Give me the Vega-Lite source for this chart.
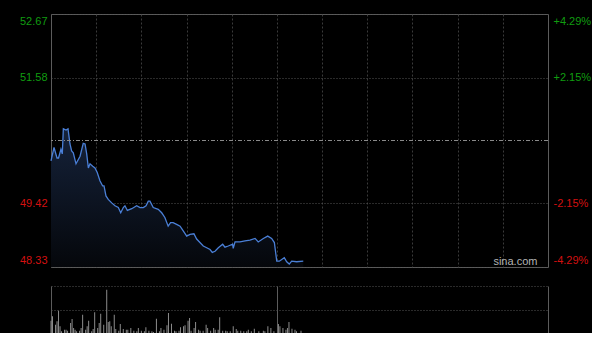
{
  "$schema": "https://vega.github.io/schema/vega-lite/v6.json",
  "background": "#000000",
  "padding": {"left": 18, "top": 13, "right": 0, "bottom": 0},
  "config": {
    "view": {"stroke": null},
    "font": "Liberation Sans",
    "axis": {"labelFont": "Liberation Sans", "labelFontSize": 11, "title": null, "ticks": false, "domain": false}
  },
  "datasets": {
    "price": [
      {"m": 0, "p": 50.15}, {"m": 2, "p": 50.38}, {"m": 4, "p": 50.2}, {"m": 5, "p": 50.2},
      {"m": 6.6, "p": 50.35}, {"m": 7.5, "p": 50.27}, {"m": 8.2, "p": 50.7}, {"m": 10, "p": 50.68},
      {"m": 11.3, "p": 50.7}, {"m": 12.6, "p": 50.44}, {"m": 13.7, "p": 50.32}, {"m": 14.8, "p": 50.29},
      {"m": 16.6, "p": 50.1}, {"m": 19.3, "p": 50.23}, {"m": 21.4, "p": 50.45}, {"m": 22.6, "p": 50.44},
      {"m": 23.7, "p": 50.27}, {"m": 24.8, "p": 50.03}, {"m": 25.9, "p": 50.1}, {"m": 27.7, "p": 50.06},
      {"m": 29.2, "p": 50.03}, {"m": 30.7, "p": 49.95}, {"m": 32.5, "p": 49.81}, {"m": 34.3, "p": 49.72},
      {"m": 35.2, "p": 49.72}, {"m": 36.5, "p": 49.55}, {"m": 38, "p": 49.49}, {"m": 40.3, "p": 49.43},
      {"m": 42.5, "p": 49.38}, {"m": 44.7, "p": 49.35}, {"m": 46.3, "p": 49.26}, {"m": 48, "p": 49.35},
      {"m": 49.1, "p": 49.38}, {"m": 50.7, "p": 49.3}, {"m": 53.6, "p": 49.33}, {"m": 56.9, "p": 49.38},
      {"m": 59.1, "p": 49.35}, {"m": 61.3, "p": 49.35}, {"m": 63.1, "p": 49.38}, {"m": 64.6, "p": 49.46},
      {"m": 65.7, "p": 49.46}, {"m": 67.9, "p": 49.35}, {"m": 71.2, "p": 49.32}, {"m": 73.5, "p": 49.26},
      {"m": 75.6, "p": 49.18}, {"m": 77.8, "p": 49.03}, {"m": 79.4, "p": 49.09}, {"m": 81.1, "p": 49.09},
      {"m": 83.4, "p": 49.06}, {"m": 85.7, "p": 49.03}, {"m": 87.8, "p": 48.95}, {"m": 90.1, "p": 48.86},
      {"m": 92.3, "p": 48.89}, {"m": 94.9, "p": 48.9}, {"m": 96.7, "p": 48.81}, {"m": 98.9, "p": 48.75},
      {"m": 101.1, "p": 48.69}, {"m": 103.4, "p": 48.66}, {"m": 105.6, "p": 48.63}, {"m": 107.1, "p": 48.58},
      {"m": 108.9, "p": 48.6}, {"m": 111.1, "p": 48.66}, {"m": 114, "p": 48.72}, {"m": 115.5, "p": 48.67},
      {"m": 117.7, "p": 48.69}, {"m": 120.6, "p": 48.72}, {"m": 121, "p": 48.65}, {"m": 122.2, "p": 48.76},
      {"m": 125.5, "p": 48.76}, {"m": 128.8, "p": 48.78}, {"m": 132.1, "p": 48.79}, {"m": 135.5, "p": 48.82},
      {"m": 137.6, "p": 48.76}, {"m": 141, "p": 48.82}, {"m": 143.9, "p": 48.86}, {"m": 146.5, "p": 48.82},
      {"m": 148.3, "p": 48.75}, {"m": 149.9, "p": 48.43}, {"m": 151.6, "p": 48.43}, {"m": 153.2, "p": 48.46},
      {"m": 154.9, "p": 48.49}, {"m": 156.5, "p": 48.42}, {"m": 158.2, "p": 48.38}, {"m": 159.8, "p": 48.43},
      {"m": 163.1, "p": 48.42}, {"m": 167.5, "p": 48.43}
    ],
    "vol": [
      {"m": 0, "v": 37}, {"m": 1, "v": 50}, {"m": 3, "v": 25}, {"m": 4, "v": 35}, {"m": 5, "v": 67},
      {"m": 6, "v": 20}, {"m": 7, "v": 5}, {"m": 9, "v": 10}, {"m": 10, "v": 10}, {"m": 11, "v": 7},
      {"m": 13, "v": 30}, {"m": 14, "v": 42}, {"m": 15, "v": 15}, {"m": 16, "v": 10}, {"m": 17, "v": 5},
      {"m": 19, "v": 7}, {"m": 20, "v": 15}, {"m": 21, "v": 55}, {"m": 23, "v": 10}, {"m": 24, "v": 20},
      {"m": 25, "v": 37}, {"m": 27, "v": 5}, {"m": 28, "v": 12}, {"m": 29, "v": 62}, {"m": 31, "v": 15},
      {"m": 32, "v": 30}, {"m": 33, "v": 58}, {"m": 35, "v": 25}, {"m": 37, "v": 130}, {"m": 38, "v": 33},
      {"m": 39, "v": 35}, {"m": 40, "v": 20}, {"m": 42, "v": 55}, {"m": 43, "v": 12}, {"m": 45, "v": 7},
      {"m": 46, "v": 27}, {"m": 48, "v": 12}, {"m": 50, "v": 10}, {"m": 51, "v": 10}, {"m": 53, "v": 15},
      {"m": 55, "v": 7}, {"m": 57, "v": 5}, {"m": 58, "v": 15}, {"m": 60, "v": 7}, {"m": 62, "v": 5},
      {"m": 63, "v": 17}, {"m": 65, "v": 7}, {"m": 67, "v": 5}, {"m": 68, "v": 3}, {"m": 70, "v": 43},
      {"m": 72, "v": 5}, {"m": 73, "v": 15}, {"m": 75, "v": 10}, {"m": 77, "v": 23}, {"m": 78, "v": 60},
      {"m": 80, "v": 28}, {"m": 82, "v": 7}, {"m": 83, "v": 5}, {"m": 85, "v": 7}, {"m": 86, "v": 17},
      {"m": 88, "v": 20}, {"m": 89, "v": 23}, {"m": 91, "v": 37}, {"m": 92, "v": 45}, {"m": 93, "v": 7},
      {"m": 95, "v": 15}, {"m": 96, "v": 33}, {"m": 98, "v": 10}, {"m": 99, "v": 7}, {"m": 101, "v": 7},
      {"m": 103, "v": 25}, {"m": 104, "v": 15}, {"m": 106, "v": 7}, {"m": 108, "v": 15}, {"m": 109, "v": 10},
      {"m": 111, "v": 10}, {"m": 112, "v": 47}, {"m": 114, "v": 7}, {"m": 116, "v": 7}, {"m": 117, "v": 5},
      {"m": 119, "v": 5}, {"m": 121, "v": 20}, {"m": 123, "v": 12}, {"m": 124, "v": 7}, {"m": 126, "v": 7},
      {"m": 128, "v": 5}, {"m": 130, "v": 5}, {"m": 131, "v": 10}, {"m": 133, "v": 5}, {"m": 135, "v": 13},
      {"m": 138, "v": 5}, {"m": 141, "v": 7}, {"m": 142, "v": 5}, {"m": 144, "v": 20}, {"m": 146, "v": 15},
      {"m": 148, "v": 5}, {"m": 151, "v": 27}, {"m": 152, "v": 20}, {"m": 154, "v": 15}, {"m": 156, "v": 10},
      {"m": 157, "v": 15}, {"m": 158, "v": 33}, {"m": 160, "v": 13}, {"m": 162, "v": 10}, {"m": 163, "v": 5},
      {"m": 166, "v": 7}
    ]
  },
  "spacing": 19,
  "bounds": "flush",
  "align": "all",
  "center": false,
  "vconcat": [
    {
      "width": 497,
      "height": 253,
      "view": {"stroke": "#5c5c5c", "strokeWidth": 1},
      "layer": [
        {
          "layer": [
            {
              "data": {"name": "price"},
              "mark": {
                "type": "area",
                "color": {
                  "gradient": "linear", "x1": 0, "y1": 0, "x2": 0, "y2": 1,
                  "stops": [{"offset": 0, "color": "#15223a"}, {"offset": 1, "color": "#05070b"}]
                }
              },
              "encoding": {
                "x": {
                  "field": "m", "type": "quantitative",
                  "scale": {"domain": [0, 330], "nice": false},
                  "axis": {
                    "values": [30, 60, 90, 120, 150, 180, 210, 240, 270, 300],
                    "grid": true, "gridColor": "#3a3a3a", "gridDash": [2, 2],
                    "labels": false
                  }
                },
                "y": {
                  "field": "p", "type": "quantitative",
                  "scale": {"domain": [48.33, 52.67], "zero": false, "nice": false},
                  "axis": {
                    "orient": "left",
                    "values": [48.33, 49.42, 51.58, 52.67],
                    "format": ".2f",
                    "labelPadding": 4,
                    "labelFlush": true,
                    "labelFlushOffset": -1.5,
                    "labelColor": {"condition": {"test": "datum.value > 50.5", "value": "#109c10"}, "value": "#d41010"},
                    "grid": true, "gridColor": "#555555", "gridDash": [1, 2]
                  }
                },
                "y2": {"datum": 48.33}
              }
            },
            {
              "data": {"name": "price"},
              "mark": {"type": "line", "color": "#4a7fd6", "strokeWidth": 1.3},
              "encoding": {
                "x": {"field": "m", "type": "quantitative"},
                "y": {"field": "p", "type": "quantitative"}
              }
            },
            {
              "data": {"values": [{}]},
              "mark": {"type": "text", "text": "sina.com", "color": "#b4b4b4", "fontSize": 11, "font": "Liberation Sans", "align": "right", "baseline": "middle"},
              "encoding": {
                "x": {"datum": 323, "type": "quantitative"},
                "y": {"datum": 48.42, "type": "quantitative"}
              }
            }
          ]
        },
        {
          "data": {"values": [{}]},
          "mark": {"type": "rule", "color": "#8a8a8a", "strokeDash": [4, 2, 1, 2], "strokeWidth": 1},
          "encoding": {
            "y": {
              "datum": 0, "type": "quantitative",
              "scale": {"domain": [-4.29, 4.29], "nice": false, "zero": false},
              "axis": {
                "orient": "right",
                "values": [-4.29, -2.15, 0, 2.15, 4.29],
                "labelExpr": "datum.value == 0 ? '' : (datum.value > 0 ? '+' : '-') + format(abs(datum.value), '.2f') + '%'",
                "labelPadding": 5,
                "labelFlush": true,
                "labelFlushOffset": -1.5,
                "labelColor": {"condition": {"test": "datum.value > 0", "value": "#109c10"}, "value": "#d41010"},
                "grid": false
              }
            }
          }
        }
      ],
      "resolve": {"scale": {"y": "independent"}, "axis": {"y": "independent"}}
    },
    {
      "width": 497,
      "height": 47,
      "data": {"name": "vol"},
      "mark": {"type": "bar", "color": "#8c8c8c", "width": 1},
      "encoding": {
        "x": {
          "field": "m", "type": "quantitative",
          "scale": {"domain": [0, 330], "nice": false, "padding": 0},
          "axis": {"values": [0, 150, 330], "grid": true, "gridColor": "#5c5c5c", "labels": false}
        },
        "y": {
          "field": "v", "type": "quantitative",
          "scale": {"domain": [0, 141], "nice": false},
          "axis": {"values": [0, 70.5, 141], "grid": true, "gridColor": "#555555", "gridDash": [1, 2], "labels": false}
        }
      }
    }
  ]
}
